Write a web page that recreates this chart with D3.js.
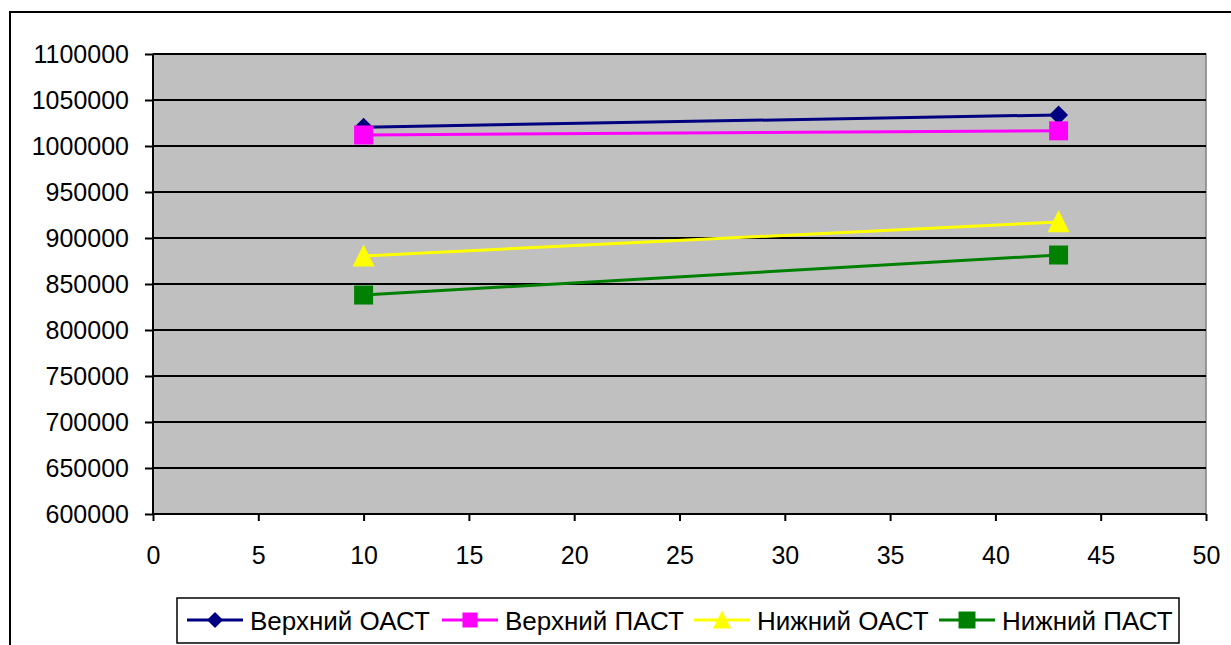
<!DOCTYPE html>
<html><head><meta charset="utf-8">
<script src="https://cdn.jsdelivr.net/npm/d3@7"></script>
<style>body{margin:0;background:#fff;} svg{display:block;}</style>
</head><body>
<svg id="chart" width="1231" height="645"></svg>
<script>
const seriesNames = ["Верхний ОАСТ", "Верхний ПАСТ", "Нижний ОАСТ", "Нижний ПАСТ"];
const xValues = [10, 43];
const upperOAST = [1020500, 1033800];
const upperPAST = [1012000, 1016500];
const lowerOAST = [880500, 917500];
const lowerPAST = [838000, 881500];
const xTicks = [0, 5, 10, 15, 20, 25, 30, 35, 40, 45, 50];
const yTicks = [600000, 650000, 700000, 750000, 800000, 850000, 900000, 950000, 1000000, 1050000, 1100000];
const colors = ["#000080", "#FF00FF", "#FFFF00", "#008000"];
const markers = ["diamond", "square", "triangle", "square"];

const svg = d3.select("#chart");
const font = "Liberation Sans, Arial, sans-serif";
const L = 153, R = 1206, T = 54, B = 514;
const x = d3.scaleLinear().domain([0, 50]).range([L, R]);
const y = d3.scaleLinear().domain([600000, 1100000]).range([B, T]);

// outer border
svg.append("rect").attr("x", 10).attr("y", 12).attr("width", 1240).attr("height", 660)
  .attr("fill", "none").attr("stroke", "#000").attr("stroke-width", 2);

// plot area
svg.append("rect").attr("x", L).attr("y", T).attr("width", R - L).attr("height", B - T)
  .attr("fill", "#C0C0C0").attr("stroke", "#808080").attr("stroke-width", 1.5);

// gridlines
svg.append("g").selectAll("line").data(yTicks.slice(1)).join("line")
  .attr("x1", L).attr("x2", R).attr("y1", d => y(d)).attr("y2", d => y(d))
  .attr("stroke", "#000").attr("stroke-width", 2);

// axes
const yAxis = d3.axisLeft(y).tickValues(yTicks).tickSize(8).tickPadding(16).tickFormat(d3.format("d"));
const gy = svg.append("g").attr("transform", `translate(${L},0)`).call(yAxis);
const xAxis = d3.axisBottom(x).tickValues(xTicks).tickSize(7).tickPadding(25).tickFormat(d3.format("d"));
const gx = svg.append("g").attr("transform", `translate(0,${B})`).call(xAxis);
[gx, gy].forEach(g => {
  g.select(".domain").attr("stroke", "#000").attr("stroke-width", 2);
  g.selectAll(".tick line").attr("stroke", "#000").attr("stroke-width", 2);
  g.selectAll(".tick text").attr("fill", "#000").style("font-family", font).style("font-size", "25px");
});
gx.select(".domain").attr("d", `M${L},0H${R}`);
gy.select(".domain").attr("d", `M0,${B}V${T}`);

function markerPath(type, s) {
  const h = s / 2;
  if (type === "diamond") return `M0,${-h}L${h},0L0,${h}L${-h},0Z`;
  if (type === "square") return `M${-h},${-h}H${h}V${h}H${-h}Z`;
  return `M0,${-h * 1.05}L${h},${h * 0.95}L${-h},${h * 0.95}Z`;
}

const allSeries = [upperOAST, upperPAST, lowerOAST, lowerPAST];
const line = d3.line().x(d => x(d[0])).y(d => y(d[1]));
const plotG = svg.append("g");
const sizes = [19, 19, 22, 19];
allSeries.forEach((s, i) => {
  const pts = xValues.map((xv, j) => [xv, s[j]]);
  plotG.append("path").attr("d", line(pts)).attr("fill", "none")
    .attr("stroke", colors[i]).attr("stroke-width", 3);
});
allSeries.forEach((s, i) => {
  const pts = xValues.map((xv, j) => [xv, s[j]]);
  plotG.append("g").selectAll("path").data(pts).join("path")
    .attr("transform", d => `translate(${x(d[0])},${y(d[1])})`)
    .attr("d", markerPath(markers[i], sizes[i])).attr("fill", colors[i]);
});

// legend
const lg = svg.append("g");
lg.append("rect").attr("x", 177).attr("y", 598).attr("width", 1002).attr("height", 45)
  .attr("fill", "#fff").attr("stroke", "#000").attr("stroke-width", 1.5);
const itemX = [187, 442, 694, 939];
const legSizes = [16, 15, 18, 17];
seriesNames.forEach((n, i) => {
  const g = lg.append("g").attr("transform", `translate(${itemX[i]},620)`);
  g.append("line").attr("x1", 0).attr("x2", 56).attr("stroke", colors[i]).attr("stroke-width", 3);
  g.append("path").attr("transform", "translate(28,0)").attr("d", markerPath(markers[i], legSizes[i])).attr("fill", colors[i]);
  g.append("text").attr("x", 63).attr("y", 10).text(n)
    .style("font-family", font).style("font-size", "26px").attr("fill", "#000");
});
</script>
</body></html>
